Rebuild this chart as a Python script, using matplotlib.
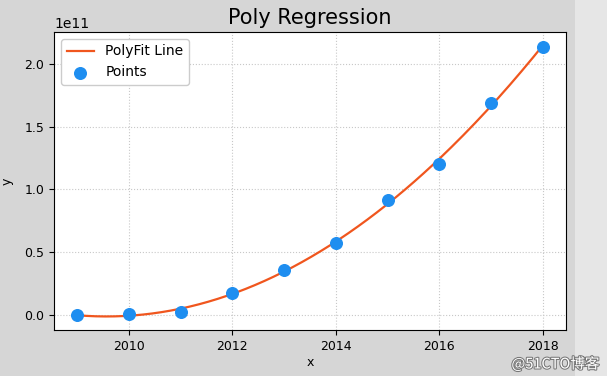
import numpy as np
import matplotlib
matplotlib.use('Agg')
import matplotlib.pyplot as plt
import matplotlib.patheffects as pe
from matplotlib.patches import Rectangle

plt.rcParams['font.family'] = ['DejaVu Sans', 'Noto Sans CJK SC']

# data (y in units of 1e11)
years = [2009, 2010, 2011, 2012, 2013, 2014, 2015, 2016, 2017, 2018]
values = [0.0, 0.01, 0.03, 0.18, 0.357, 0.571, 0.913, 1.206, 1.69, 2.135]

x = np.array(years, dtype=float)
y = np.array(values) * 1e11

# quadratic fit through the points
coef = np.polyfit(x, y, 2)
xs = np.linspace(x.min(), x.max(), 200)
ys = np.polyval(coef, xs)

fig = plt.figure(figsize=(6.07, 3.76), dpi=100, facecolor='#d6d6d6')
fig.patches.append(Rectangle((575 / 607, 0), 32 / 607, 1, transform=fig.transFigure,
                             facecolor='#e6e6e6', edgecolor='none', zorder=0))
ax = fig.add_axes([54 / 607, 46 / 376, 512 / 607, 298 / 376])

ax.plot(xs, ys, color='#f0561e', lw=1.6, label='PolyFit Line', zorder=2)
ax.scatter(x, y, s=70, color='#1e8ef0', label='Points', zorder=3)

ax.set_title('Poly Regression', fontsize=15)
ax.set_xlabel('x', fontsize=9, labelpad=2)
ax.set_ylabel('y', fontsize=9, labelpad=8)
ax.tick_params(labelsize=9)
ax.grid(True, linestyle=':', color='#c8c8c8', lw=0.8)
ax.set_axisbelow(True)
ax.legend(loc='upper left', fontsize=10, framealpha=1)

fig.text(0.988, 0.012, '@51CTO博客', ha='right', va='bottom', fontsize=10.5,
         color='white', family=['Noto Sans CJK SC', 'DejaVu Sans'],
         path_effects=[pe.withStroke(linewidth=1.5, foreground='#777777')])

fig.savefig('out.png', dpi=100, facecolor=fig.get_facecolor())
